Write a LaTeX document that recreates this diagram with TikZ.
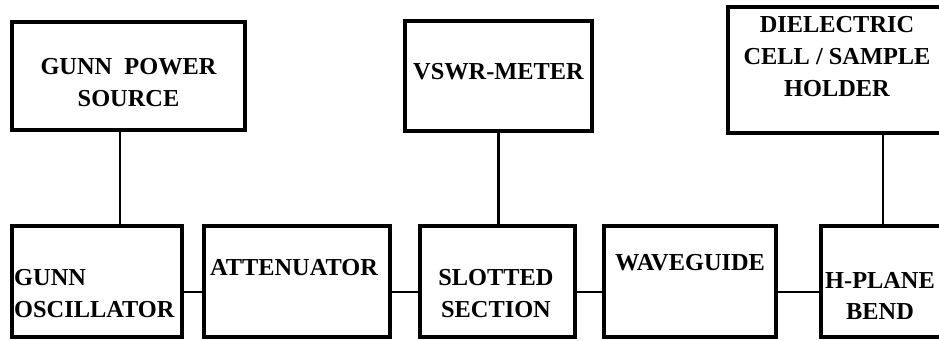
\documentclass[tikz,border=0pt]{standalone}
\usepackage{fontspec}
\setmainfont{Liberation Serif}
\usetikzlibrary{positioning}
\tikzset{
  blk/.style 2 args={draw,line width=2.6pt,inner sep=0pt,minimum width=#1cm,minimum height=#2cm},
  lbl/.style={align=center,inner sep=0pt,font=\bfseries\fontsize{20.8}{27.3}\selectfont},
  wire/.style={line width=2.2pt},
}

\begin{document}
\begin{tikzpicture}
  \clip (0,0) rectangle (28.17,10.23);
  % upper row
  \node[blk={6.99}{3.24}] (gps)  at (3.855,7.95) {};
  \node[blk={5.61}{3.30}] (vswr) at (14.955,7.95) {};
  \node[blk={6.54}{3.78}] (diel) at (25.11,8.13) {};
  % lower row
  \node[blk={5.10}{3.33}] (osc) at (2.91,1.785) {};
  \node[blk={5.58}{3.33}] (att) at (8.91,1.785) {};
  \node[blk={4.65}{3.33}] (ss)  at (14.925,1.785) {};
  \node[blk={5.16}{3.33}] (wg)  at (20.70,1.785) {};
  \node[blk={3.72}{3.33}] (hpb) at (26.49,1.785) {};
  % texts
  \node[lbl] (gpstxt)  at (3.855,7.755) {GUNN\ \ POWER\\SOURCE};
  \node[lbl] (vswrtxt) at (14.955,8.07) {VSWR-METER};
  \node[lbl] (dieltxt) at (25.11,8.535) {DIELECTRIC\\CELL / SAMPLE\\HOLDER};
  \node[lbl,align=left,anchor=west] (osctxt) at (0.42,1.41) {GUNN\\OSCILLATOR};
  \node[lbl] (atttxt) at (8.82,2.19) {ATTENUATOR};
  \node[lbl] (sstxt)  at (14.88,1.41) {SLOTTED\\SECTION};
  \node[lbl] (wgtxt)  at (20.70,2.34) {WAVEGUIDE};
  \node[lbl] (hpbtxt) at (26.40,1.35) {H-PLANE\\BEND};
  % connectors
  \coordinate (tap) at (3.6,0);
  \coordinate (bus) at (0,1.47);
  \draw[wire] (gps.south -| tap) -- (osc.north -| tap);
  \draw[wire] (vswr.south) -- (vswr.south |- ss.north);
  \draw[wire] (hpb.north) -- (hpb.north |- diel.south);
  \draw[wire] (osc.east |- bus) -- (att.west |- bus);
  \draw[wire] (att.east |- bus) -- (ss.west |- bus);
  \draw[wire] (ss.east |- bus) -- (wg.west |- bus);
  \draw[wire] (wg.east |- bus) -- (hpb.west |- bus);
\end{tikzpicture}
\end{document}
